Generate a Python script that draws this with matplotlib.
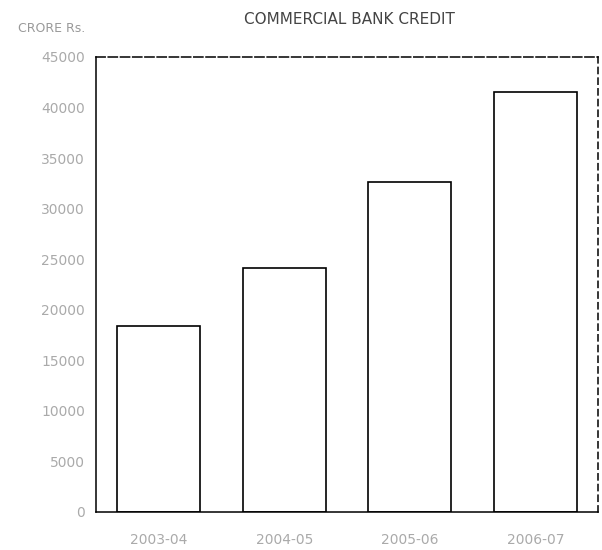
import matplotlib
matplotlib.use("Agg")
import matplotlib.pyplot as plt

# values (crore Rs.)
years = ["2003-04", "2004-05", "2005-06", "2006-07"]
credit = [18400, 24100, 32600, 41500]
yticks = [0, 5000, 10000, 15000, 20000, 25000, 30000, 35000, 40000, 45000]

fig = plt.figure(figsize=(6.02, 5.5), dpi=100)
ax = fig.add_axes([0.1595, 0.0691, 0.8339, 0.8273])

ax.bar(range(len(years)), credit, width=0.66, facecolor="white",
       edgecolor="black", linewidth=1.2)

ax.set_xlim(-0.5, len(years) - 0.5)
ax.set_ylim(0, 45000)
ax.set_xticks(range(len(years)))
ax.set_xticklabels(years)
ax.set_yticks(yticks)
ax.set_yticklabels([str(v) for v in yticks])
ax.tick_params(length=0, colors="#aaaaaa", labelsize=10)
ax.tick_params(axis="x", pad=15)
ax.tick_params(axis="y", pad=8)

for side in ["left", "right", "top", "bottom"]:
    ax.spines[side].set_color("black")
    ax.spines[side].set_linewidth(1.1)
ax.spines["right"].set_linestyle((0, (4, 3)))
ax.spines["top"].set_linestyle((0, (6, 2)))

fig.text(0.58, 0.965, "COMMERCIAL BANK CREDIT", ha="center", va="center",
         fontsize=11, color="#444444")
fig.text(0.085, 0.948, "CRORE Rs.", ha="center", va="center",
         fontsize=9, color="#999999")

fig.savefig("out.png", dpi=100)
